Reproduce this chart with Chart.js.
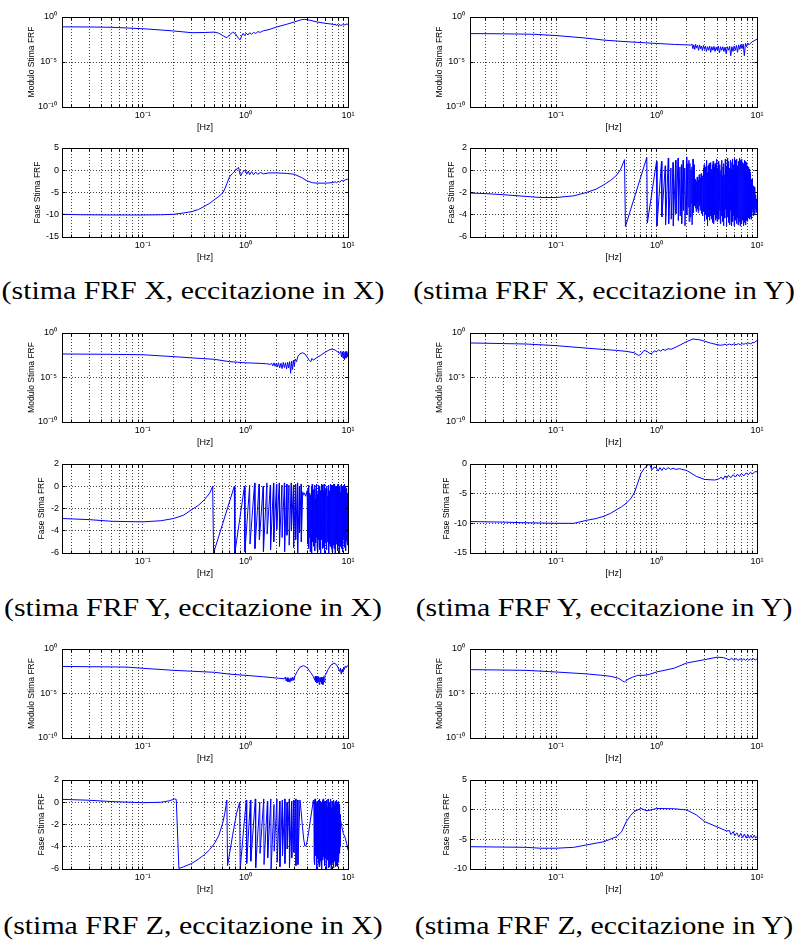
<!DOCTYPE html>
<html>
<head>
<meta charset="utf-8">
<script src="https://cdn.jsdelivr.net/npm/chart.js@4.4.1/dist/chart.umd.min.js"></script>
<style>
  html, body { margin: 0; padding: 0; background: #fff; }
  body { width: 795px; height: 943px; position: relative; overflow: hidden; }
  canvas { position: absolute; }
  .didascalia {
    position: absolute; white-space: nowrap; color: #000;
    font-family: "Liberation Serif", "Times New Roman", serif; font-size: 25.5px; line-height: 28px;
    transform: translateX(-50%) scaleX(1.17);
  }
</style>
</head>
<body>
<script>
// ---- Asse delle frequenze ----
const tickFrequenze = [0.02,0.03,0.04,0.05,0.06,0.07,0.08,0.09,
  0.1,0.2,0.3,0.4,0.5,0.6,0.7,0.8,0.9,1,2,3,4,5,6,7,8,9,10];
const decadi = [0.1, 1, 10];
const etichetteDecadi = ['10⁻¹', '10⁰', '10¹'];

// ---- Asse del modulo ----
const tickModulo = [1e-10, 1e-5, 1];
const etichetteModulo = ['10⁻¹⁰', '10⁻⁵', '10⁰'];

// ---- Didascalie ----
const didascalie = [
  '(stima FRF X, eccitazione in X)', '(stima FRF X, eccitazione in Y)',
  '(stima FRF Y, eccitazione in X)', '(stima FRF Y, eccitazione in Y)',
  '(stima FRF Z, eccitazione in X)', '(stima FRF Z, eccitazione in Y)'
];

// ---- Stima FRF X, eccitazione X : [frequenza Hz, valore] ----
const moduloXX = [[0.0163,8.0e-2],[0.03,7.8e-2],[0.05,7.2e-2],[0.1,5.0e-2],[0.15,3.6e-2],[0.2,2.8e-2],
  [0.3,1.8e-2],[0.4,1.9e-2],[0.5,2.1e-2],[0.55,1.6e-2],[0.62,7e-3],[0.66,5e-3],[0.7,1.0e-2],[0.75,2.0e-2],
  [0.8,1.4e-2],[0.86,4e-3],[0.89,3e-3],[0.92,8e-3],[0.95,1.5e-2],[0.98,9e-3],[1.02,1.6e-2],[1.06,1.0e-2],
  [1.1,1.8e-2],[1.15,1.2e-2],[1.2,2.0e-2],[1.26,1.5e-2],[1.32,2.3e-2],[1.4,2.0e-2],[1.5,3.0e-2],[1.7,4.0e-2],
  [2.0,7.5e-2],[2.5,1.5e-1],[3.0,2.8e-1],[3.5,5.0e-1],[3.8,5.5e-1],[4.2,4.5e-1],[5,2.8e-1],[6,2.0e-1],
  [7,1.6e-1],[7.3,1.3e-1],[7.5,1.7e-1],[7.7,1.1e-1],[7.9,1.6e-1],[8.1,1.0e-1],[8.3,1.5e-1],[8.5,1.1e-1],
  [8.8,1.4e-1],[9.2,1.3e-1],[9.6,1.6e-1],[10,1.6e-1]];
const faseXX = [[0.0163,-9.9],[0.025,-10.0],[0.05,-10.05],[0.1,-10.05],[0.15,-10.0],[0.2,-9.9],[0.25,-9.6],
  [0.3,-9.3],[0.35,-8.8],[0.4,-8.1],[0.45,-7.4],[0.5,-6.6],[0.55,-5.9],[0.6,-5.1],[0.63,-4.2],[0.66,-3.0],
  [0.7,-1.5],[0.75,-0.7],[0.8,-0.1],[0.84,0.5],[0.86,0.6],[0.88,-0.6],[0.9,-1.3],[0.93,-0.6],[0.96,-0.2],
  [1.0,0.0],[1.03,-0.9],[1.07,-0.2],[1.1,-1.0],[1.15,-0.3],[1.2,-1.0],[1.26,-0.4],[1.32,-0.9],[1.4,-0.5],
  [1.5,-0.8],[1.7,-0.6],[2.0,-0.6],[2.5,-0.7],[3.0,-0.9],[3.5,-1.6],[4.0,-2.4],[4.5,-2.8],[5.0,-2.9],
  [6.0,-2.9],[7.0,-2.8],[7.5,-2.6],[7.7,-2.8],[8.0,-2.5],[8.3,-2.7],[8.6,-2.3],[9.0,-2.4],[9.5,-2.1],[10,-2.0]];

// ---- Stima FRF X, eccitazione Y ----
const moduloXY = [[0.0139,1.45e-2],[0.03,1.35e-2],[0.06,1.2e-2],[0.1,8.7e-3],[0.2,4.5e-3],[0.3,2.7e-3],
  [0.5,1.8e-3],[1.0,1.15e-3],[1.5,9e-4],[2.0,7.9e-4],[2.2,7.5e-4],
  [2.25,1.0e-3],[2.3,3e-4],[2.35,8e-4],[2.4,2.5e-4],[2.45,9e-4],[2.5,3.5e-4],[2.56,7e-4],[2.62,2e-4],
  [2.68,8e-4],[2.74,3e-4],[2.8,6e-4],[2.86,1.8e-4],[2.93,7e-4],[3.0,2.5e-4],[3.07,6e-4],[3.14,1.5e-4],
  [3.22,5e-4],[3.3,2e-4],[3.38,6e-4],[3.46,1.2e-4],[3.55,5e-4],[3.64,2e-4],[3.73,5.5e-4],[3.82,1.5e-4],
  [3.92,4.5e-4],[4.02,2e-4],[4.12,6e-4],[4.23,1e-4],[4.34,5e-4],[4.45,2e-4],[4.57,5e-4],[4.69,1.5e-4],
  [4.81,4.5e-4],[4.94,8e-5],[5.07,5e-4],[5.2,2e-4],[5.34,5.5e-4],[5.48,5e-5],[5.62,5e-4],[5.77,1.5e-4],
  [5.92,6e-4],[6.08,2e-4],[6.24,7e-4],[6.4,1.2e-4],[6.57,8e-4],[6.74,2.5e-4],[6.92,9e-4],[7.1,3e-4],
  [7.29,1e-3],[7.48,5e-5],[7.68,1.2e-3],[7.88,5e-4],[8.1,1.3e-3],[8.3,8e-4],[8.6,1.2e-3],[9.0,1.8e-3],
  [9.5,2.5e-3],[10,3.5e-3]];
const faseXY = [[0.0139,-2.05],[0.02,-2.1],[0.03,-2.2],[0.05,-2.35],[0.07,-2.45],[0.1,-2.45],[0.15,-2.3],
  [0.2,-2.0],[0.25,-1.7],[0.3,-1.3],[0.35,-0.9],[0.4,-0.45],[0.44,0.1],[0.48,0.95],[0.49,-5.05],[0.8,1.15],
  [0.81,-4.75],[1.0,0.8],[1.01,-5.0],[1.12,0.8],[1.13,-4.2],[1.22,0.4],[1.23,-4.9],[1.31,1.1],[1.32,-4.8],
  [1.39,0.2],[1.4,-4.4],[1.46,0.7],[1.47,-5.0],[1.55,0.9],[1.56,-3.9],[1.64,1.1],[1.65,-4.5],[1.71,0.3],
  [1.72,-4.1],[1.77,0.5],[1.78,-4.8],[1.84,0.9],[1.85,-3.6],[1.91,0.2],[1.92,-5.0],[1.99,1.2],[2.0,-4.0],
  [2.05,0.6],[2.06,-3.3],[2.1,0.9],[2.11,-4.6],[2.15,0.6],[2.16,-4.2],[2.2,0.0],[2.21,-3.0],[2.25,0.3],
  [2.26,-4.9],[2.31,1.0],[2.32,-3.8],[2.36,0.5],[2.37,-3.2],
  [2.42,-0.8],[2.44,-3.4],[2.46,-1.5],[2.48,-3.7],[2.5,-1.0],[2.52,-3.0],[2.54,-0.6],[2.56,-3.5],[2.58,-1.3],
  [2.6,-3.8],[2.62,-0.9],[2.64,-2.8],[2.66,-0.4],[2.68,-3.2],[2.7,-1.1],[2.72,-3.6],[2.74,-0.7],[2.76,-3.0],
  [2.78,-0.3],[2.8,-3.9],[2.82,-1.2],[2.84,-3.4],[2.86,-0.5],[2.88,-4.1],[2.9,-0.9],[2.92,-3.1],[2.94,0.2],
  [2.96,-3.7],[2.98,0.5],[3.0,-4.6],[3.02,-0.8],[3.04,-3.3],[3.06,-0.4],[3.08,-4.0],[3.1,0.3],[3.12,-3.5],
  [3.14,0.9],[3.16,-4.4],[3.18,-0.6],[3.2,-5.0],[3.22,-0.2],[3.24,-3.8],[3.26,0.4],[3.28,-4.2],[3.3,-0.9],
  [3.32,-3.6],[3.34,0.6],[3.36,-4.5],[3.38,-0.3],[3.4,-3.4],[3.42,0.2],[3.44,-4.1],[3.46,0.7],[3.48,-3.7],
  [3.5,-0.5],[3.52,-4.4],[3.54,0.1],[3.56,-3.9],[3.58,-0.7],[3.6,-4.7],[3.62,0.5],[3.64,-3.5],[3.66,0.8],
  [3.68,-4.2],[3.7,-0.1],[3.72,-4.8],[3.74,0.3],[3.76,-3.6],[3.78,-0.4],[3.8,-4.0],[3.82,0.6],[3.84,-4.5],
  [3.86,-0.2],[3.88,-3.8],[3.9,0.4],[3.92,-4.3],[3.94,-0.6],[3.96,-3.7],[3.98,1.0],[4.0,-4.6],[4.04,0.2],
  [4.08,-3.9],[4.12,0.8],[4.16,-4.4],[4.2,-0.3],[4.24,-3.6],[4.28,0.5],[4.32,-4.8],[4.36,-0.1],[4.4,-4.1],
  [4.44,0.9],[4.48,-3.7],[4.52,-0.5],[4.56,-4.6],[4.6,0.3],[4.64,-5.0],[4.68,0.6],[4.72,-3.9],[4.76,-0.4],
  [4.8,-4.3],[4.84,1.0],[4.88,-3.5],[4.92,0.0],[4.96,-5.0],[5.0,0.4],[5.04,-4.2],[5.08,1.1],[5.12,-3.8],
  [5.16,-0.2],[5.2,-4.7],[5.24,0.8],[5.28,-4.0],[5.32,0.2],[5.36,-4.9],[5.4,-0.5],[5.44,-3.6],[5.48,0.9],
  [5.52,-4.4],[5.56,0.1],[5.6,-5.0],[5.64,0.7],[5.68,-3.9],[5.72,1.0],[5.76,-4.6],[5.8,-0.3],[5.84,-4.1],
  [5.88,0.5],[5.92,-5.0],[5.96,1.1],[6.0,-3.7],[6.04,0.3],[6.08,-4.5],[6.12,0.9],[6.16,-4.0],[6.2,-0.1],
  [6.24,-4.8],[6.28,1.0],[6.32,-3.6],[6.36,0.4],[6.4,-4.3],[6.44,0.0],[6.48,-4.9],[6.52,0.8],[6.56,-3.8],
  [6.6,0.2],[6.64,-4.6],[6.68,1.1],[6.72,-4.1],[6.76,0.5],[6.8,-5.0],[6.84,-0.2],[6.88,-3.7],[6.92,0.9],
  [6.96,-4.4],[7.0,0.3],[7.04,-4.8],[7.08,1.0],[7.12,-3.9],[7.16,0.1],[7.2,-4.5],[7.24,0.7],[7.28,-3.6],
  [7.32,-0.3],[7.36,-5.0],[7.4,0.6],[7.44,-4.2],[7.48,0.9],[7.52,-4.7],[7.56,0.2],[7.6,-3.8],[7.64,0.8],
  [7.68,-4.4],[7.72,-0.1],[7.76,-4.9],[7.8,0.5],[7.84,-3.9],[7.88,0.7],[7.92,-4.5],[7.96,-0.2],[8.0,-4.1],
  [8.04,0.4],[8.08,-4.6],[8.12,-0.3],[8.16,-3.7],[8.2,0.3],[8.24,-4.3],[8.28,-0.5],[8.32,-4.0],[8.36,0.1],
  [8.4,-4.4],[8.44,-0.7],[8.48,-3.8],[8.52,-0.2],[8.56,-4.2],[8.6,-0.9],[8.64,-3.9],[8.68,-0.4],[8.72,-4.4],
  [8.76,-1.0],[8.8,-3.7],[8.84,-0.8],[8.88,-4.1],[8.92,-1.2],[8.96,-3.6],[9.0,-1.0],[9.06,-0.8],[9.14,-4.1],
  [9.22,-1.4],[9.3,-3.6],[9.38,-1.5],[9.46,-4.0],[9.54,-1.9],[9.62,-3.5],[9.7,-2.2],[9.78,-3.8],[9.86,-2.6],
  [9.93,-3.5],[10,-3.2]];

// ---- Stima FRF Y, eccitazione X ----
const moduloYX = [[0.0163,4.4e-3],[0.05,4.0e-3],[0.1,3.6e-3],[0.2,2.2e-3],[0.3,1.6e-3],[0.5,1.1e-3],
  [0.7,6e-4],[1.0,4.5e-4],[1.3,4e-4],[1.6,3.5e-4],[1.75,3e-4],[1.8,4e-4],[1.85,2e-4],[1.9,4.5e-4],
  [1.95,1.8e-4],[2.0,4e-4],[2.05,1.5e-4],[2.1,4.5e-4],[2.16,1.2e-4],[2.22,4e-4],[2.28,1e-4],[2.34,5e-4],
  [2.4,1.3e-4],[2.46,4.5e-4],[2.52,9e-5],[2.58,5e-4],[2.64,1.2e-4],[2.7,6e-4],[2.76,3e-5],[2.82,7e-4],
  [2.88,8e-5],[2.94,9e-4],[3.0,2e-4],[3.06,1.2e-3],[3.15,6e-4],[3.25,2.5e-3],[3.4,4.5e-3],[3.6,6e-3],
  [3.8,4.5e-3],[4.0,2e-3],[4.2,8e-4],[4.35,6e-4],[4.45,1.4e-3],[4.6,9e-4],[5.0,1.8e-3],[5.5,3.5e-3],
  [6.0,7e-3],[6.5,1.2e-2],[7.0,1.6e-2],[7.5,1.2e-2],[8.0,7e-3],[8.3,5e-3],[8.5,9e-3],[8.65,2e-3],
  [8.8,8e-3],[8.95,1.5e-3],[9.1,7e-3],[9.25,1e-3],[9.4,8e-3],[9.55,1.5e-3],[9.7,9e-3],[9.85,2e-3],[10,7e-3]];
const faseYX = [[0.0163,-2.9],[0.03,-3.0],[0.05,-3.15],[0.1,-3.2],[0.15,-3.1],[0.2,-2.9],[0.25,-2.6],
  [0.3,-2.1],[0.35,-1.7],[0.4,-1.2],[0.45,-0.6],[0.48,0.0],[0.49,-6.0],[0.78,0.0],[0.79,-6.0],[0.98,0.0],
  [0.99,-5.9],[1.1,0.1],[1.11,-5.2],[1.23,0.3],[1.24,-5.6],[1.36,0.2],[1.37,-4.8],[1.49,0.0],[1.5,-5.9],
  [1.62,0.3],[1.63,-4.3],[1.75,0.1],[1.76,-5.7],[1.88,0.3],[1.89,-5.0],[2.01,0.2],[2.02,-3.9],[2.14,0.3],
  [2.15,-5.4],[2.27,0.1],[2.28,-4.6],[2.4,0.3],[2.41,-5.9],[2.53,0.2],[2.54,-4.4],[2.66,0.1],[2.67,-5.3],
  [2.8,0.3],[2.81,-4.0],[2.94,0.1],[2.95,-5.5],[3.08,0.2],[3.09,-4.8],[3.22,0.3],[3.23,-6.0],[3.36,0.0],
  [3.37,-4.2],[3.5,0.2],[3.51,-5.0],[3.62,-0.5],[3.7,-0.8],[3.78,-0.6],[3.86,-0.9],[3.94,-0.7],
  [4.0,-0.4],[4.04,-5.2],[4.08,-0.2],[4.12,-5.6],[4.16,0.1],[4.2,-4.6],[4.24,-0.6],[4.28,-5.9],[4.32,-0.8],
  [4.36,-4.9],[4.4,0.0],[4.44,-6.0],[4.48,0.2],[4.52,-5.0],[4.56,-0.5],[4.6,-5.4],[4.64,-0.3],[4.68,-4.7],
  [4.72,0.1],[4.76,-5.8],[4.8,-1.1],[4.84,-5.1],[4.88,-0.2],[4.92,-4.6],[4.96,0.2],[5.0,-5.5],[5.04,-0.7],
  [5.08,-5.9],[5.12,-0.5],[5.16,-4.8],[5.2,0.1],[5.24,-5.3],[5.28,0.0],[5.32,-5.7],[5.36,-0.4],[5.4,-6.0],
  [5.44,-0.9],[5.48,-4.5],[5.52,0.2],[5.56,-4.8],[5.6,0.1],[5.64,-5.6],[5.68,-0.6],[5.72,-5.5],[5.76,-0.4],
  [5.8,-4.9],[5.84,0.2],[5.88,-6.0],[5.92,0.2],[5.96,-5.2],[6.0,-0.3],[6.04,-5.1],[6.08,-0.7],[6.12,-4.7],
  [6.16,0.0],[6.2,-5.7],[6.24,0.0],[6.28,-5.0],[6.32,-0.9],[6.36,-4.7],[6.4,-0.2],[6.44,-5.8],[6.48,0.1],
  [6.52,-6.0],[6.56,-1.0],[6.6,-5.2],[6.64,-0.4],[6.68,-5.4],[6.72,0.2],[6.76,-4.6],[6.8,-0.1],[6.84,-5.0],
  [6.88,-0.5],[6.92,-5.6],[6.96,0.1],[7.0,-5.9],[7.04,0.1],[7.08,-4.9],[7.12,-0.8],[7.16,-4.5],[7.2,-0.6],
  [7.24,-5.3],[7.28,0.2],[7.32,-5.6],[7.36,0.2],[7.4,-4.8],[7.44,-0.4],[7.48,-6.0],[7.52,-0.3],[7.56,-5.0],
  [7.6,0.0],[7.64,-5.2],[7.68,0.0],[7.72,-4.6],[7.76,-0.7],[7.8,-4.8],[7.84,-0.8],[7.88,-5.5],[7.92,0.1],
  [7.96,-5.8],[8.0,0.2],[8.04,-4.9],[8.08,-0.2],[8.12,-5.3],[8.16,-0.4],[8.2,-5.7],[8.24,0.0],[8.28,-6.0],
  [8.32,-0.1],[8.36,-4.6],[8.4,-0.5],[8.44,-4.9],[8.48,-0.9],[8.52,-5.4],[8.56,0.1],[8.6,-5.6],[8.64,0.2],
  [8.68,-4.8],[8.72,-0.3],[8.76,-5.1],[8.8,-0.6],[8.84,-5.5],[8.88,0.0],[8.92,-5.9],[8.96,0.0],[9.0,-4.8],
  [9.04,-0.4],[9.08,-4.6],[9.12,-0.3],[9.16,-5.2],[9.2,0.1],[9.24,-5.5],[9.28,0.2],[9.32,-4.7],[9.36,-0.6],
  [9.4,-5.0],[9.44,-0.7],[9.48,-5.6],[9.52,0.0],[9.56,-5.8],[9.6,-0.2],[9.64,-4.9],[9.68,-0.4],[9.72,-4.7],
  [9.76,-0.5],[9.8,-5.1],[9.84,-0.6],[9.88,-5.3],[9.92,-0.8],[9.96,-3.5],[10,-1.2]];

// ---- Stima FRF Y, eccitazione Y ----
const moduloYY = [[0.0139,7.6e-2],[0.03,6.5e-2],[0.05,5.8e-2],[0.1,3.8e-2],[0.2,2.0e-2],[0.3,1.4e-2],
  [0.4,1.1e-2],[0.5,8.7e-3],[0.6,6e-3],[0.66,3e-3],[0.7,4e-3],[0.75,1.1e-2],[0.8,9e-3],[0.86,5e-3],
  [0.9,5e-3],[0.95,1e-2],[1.0,8e-3],[1.05,1.3e-2],[1.1,9e-3],[1.16,1.5e-2],[1.22,1.1e-2],[1.3,1.7e-2],
  [1.4,1.5e-2],[1.6,3.0e-2],[2.0,1.1e-1],[2.3,2.1e-1],[2.7,1.7e-1],[3.0,1.2e-1],[3.5,7e-2],[4.0,5e-2],
  [4.3,4.2e-2],[4.6,4.6e-2],[4.8,5.5e-2],[5.0,4.2e-2],[5.3,5.8e-2],[5.6,4.5e-2],[5.9,6e-2],[6.2,4.8e-2],
  [6.5,6.3e-2],[6.8,5e-2],[7.1,6.6e-2],[7.4,5.3e-2],[7.7,7e-2],[8.0,5.6e-2],[8.3,7.5e-2],[8.6,6e-2],
  [9.0,8e-2],[9.4,8.5e-2],[10,1.4e-1]];
const faseYY = [[0.0139,-9.7],[0.03,-9.8],[0.05,-9.9],[0.1,-10.0],[0.15,-10.0],[0.2,-9.5],[0.25,-9.2],
  [0.3,-8.8],[0.35,-8.3],[0.4,-7.7],[0.45,-7.2],[0.5,-6.6],[0.55,-5.9],[0.6,-4.9],[0.65,-3.2],[0.7,-1.6],
  [0.75,-0.8],[0.8,-0.3],[0.85,0.0],[0.88,-0.6],[0.9,-1.0],[0.95,-0.5],[1.0,-0.7],[1.04,-1.2],[1.08,-0.6],
  [1.13,-1.1],[1.18,-0.6],[1.24,-1.0],[1.3,-0.6],[1.38,-0.9],[1.46,-0.7],[1.55,-0.9],[1.7,-0.8],[2.0,-1.1],
  [2.5,-2.1],[3.0,-2.6],[3.8,-2.7],[4.2,-2.5],[4.4,-2.2],[4.6,-2.6],[4.8,-2.0],[5.0,-2.4],[5.2,-1.9],
  [5.5,-2.3],[5.8,-1.8],[6.1,-2.2],[6.4,-1.7],[6.7,-2.1],[7.0,-1.6],[7.4,-2.0],[7.8,-1.5],[8.2,-1.8],
  [8.6,-1.4],[9.0,-1.7],[9.5,-1.3],[10,-1.3]];

// ---- Stima FRF Z, eccitazione X ----
const moduloZX = [[0.0163,1.1e-2],[0.07,9.3e-3],[0.1,6.8e-3],[0.2,4e-3],[0.3,3.2e-3],[0.5,2.4e-3],
  [0.7,1.5e-3],[1.0,1.1e-3],[1.5,7.5e-4],[2.0,5.5e-4],[2.4,4.5e-4],[2.45,7e-4],[2.5,2.5e-4],[2.55,6e-4],
  [2.6,2e-4],[2.66,5e-4],[2.72,1.8e-4],[2.78,6e-4],[2.84,2.5e-4],[2.9,7e-4],[2.96,3e-4],[3.05,1e-3],
  [3.2,3e-3],[3.4,9e-3],[3.7,1.35e-2],[4.0,8e-3],[4.3,2.5e-3],[4.6,8e-4],[4.75,3e-4],[4.8,9e-4],
  [4.86,2e-4],[4.92,8e-4],[4.98,1.5e-4],[5.04,7e-4],[5.1,2e-4],[5.17,8e-4],[5.24,1e-4],[5.31,6e-4],
  [5.38,2e-4],[5.46,7e-4],[5.54,1.2e-4],[5.62,6e-4],[5.7,1e-4],[5.78,8e-4],[5.86,2e-4],[5.95,1e-3],
  [6.1,1.5e-3],[6.4,5e-3],[6.8,1.5e-2],[7.3,2.7e-2],[7.7,1.8e-2],[8.0,8e-3],[8.3,3e-3],[8.45,7e-3],
  [8.6,1.5e-3],[8.75,5e-3],[8.9,2.5e-3],[9.05,8e-3],[9.2,5e-3],[9.4,1.2e-2],[9.6,8e-3],[9.8,1.3e-2],[10,1.2e-2]];
const faseZX = [[0.0163,0.26],[0.03,0.18],[0.05,0.06],[0.1,-0.04],[0.15,0.0],[0.18,0.12],[0.205,0.3],
  [0.212,0.25],[0.225,-5.95],[0.25,-5.8],[0.3,-5.5],[0.35,-5.1],[0.4,-4.7],[0.45,-4.25],[0.5,-3.7],
  [0.55,-3.0],[0.6,-1.9],[0.63,-1.0],[0.66,0.2],[0.67,-5.7],[0.75,-3.0],[0.82,-1.0],[0.88,0.0],[0.89,-6.0],
  [0.96,-2.5],[1.02,0.2],[1.03,-5.5],[1.12,0.2],[1.13,-5.3],[1.25,0.3],[1.26,-5.9],[1.38,0.0],[1.39,-4.6],
  [1.51,0.3],[1.52,-5.6],[1.64,0.1],[1.65,-5.0],[1.77,0.3],[1.78,-6.0],[1.9,-0.2],[1.91,-4.4],[2.03,0.3],
  [2.04,-5.4],[2.16,0.1],[2.17,-5.8],[2.29,0.2],[2.3,-4.8],[2.42,0.3],[2.43,-5.5],[2.55,0.0],[2.56,-4.2],
  [2.68,0.3],[2.69,-5.9],[2.82,0.1],[2.83,-5.0],[2.96,0.2],[2.97,-4.5],[3.1,0.3],[3.11,-5.7],[3.24,0.2],
  [3.25,-5.6],[3.4,0.2],
  [3.5,-0.9],[3.6,-2.2],[3.7,-3.3],[3.8,-3.95],[3.9,-3.9],[4.0,-3.5],[4.15,-2.6],[4.3,-1.6],[4.45,-0.7],
  [4.6,0.2],[4.65,-0.2],[4.68,-5.2],[4.71,0.1],[4.74,-5.6],[4.77,0.3],[4.8,-4.6],[4.83,-0.3],[4.86,-4.8],
  [4.89,-0.5],[4.92,-5.7],[4.95,0.0],[4.98,-6.0],[5.01,0.1],[5.04,-4.9],[5.07,-0.6],[5.1,-5.1],[5.13,-0.8],
  [5.16,-5.5],[5.19,0.2],[5.22,-5.8],[5.25,0.3],[5.28,-4.7],[5.31,-0.2],[5.34,-4.5],[5.37,-0.4],[5.4,-5.3],
  [5.43,0.1],[5.46,-5.5],[5.49,0.0],[5.52,-5.9],[5.55,-0.5],[5.58,-6.0],[5.61,-0.9],[5.64,-5.0],[5.67,0.2],
  [5.7,-5.2],[5.73,0.3],[5.76,-4.6],[5.79,-0.2],[5.82,-4.9],[5.85,-0.3],[5.88,-5.4],[5.91,0.1],[5.94,-5.7],
  [5.97,0.1],[6.0,-4.8],[6.03,-0.6],[6.06,-5.0],[6.09,-0.4],[6.12,-5.6],[6.15,0.2],[6.18,-6.0],[6.21,0.2],
  [6.24,-4.7],[6.27,-0.5],[6.3,-4.6],[6.33,-0.4],[6.36,-5.2],[6.39,0.3],[6.42,-5.4],[6.45,0.3],[6.48,-5.9],
  [6.51,-0.4],[6.54,-5.8],[6.57,-0.7],[6.6,-4.8],[6.63,0.0],[6.66,-4.9],[6.69,0.0],[6.72,-5.3],[6.75,-0.2],
  [6.78,-5.6],[6.81,0.3],[6.84,-6.0],[6.87,-0.5],[6.9,-5.0],[6.93,-0.7],[6.96,-4.7],[6.99,0.1],[7.02,-5.5],
  [7.05,0.1],[7.08,-5.1],[7.11,-0.5],[7.14,-4.8],[7.17,-0.8],[7.2,-5.4],[7.23,0.2],[7.26,-5.9],[7.29,0.2],
  [7.32,-5.0],[7.35,-0.3],[7.38,-4.6],[7.41,-0.6],[7.44,-5.3],[7.47,0.0],[7.5,-5.5],[7.53,0.1],[7.56,-5.8],
  [7.59,-0.4],[7.62,-5.0],[7.65,-0.8],[7.68,-4.7],[7.71,0.2],[7.74,-5.2],[7.77,0.2],[7.8,-5.7],[7.83,-0.3],
  [7.86,-5.8],[7.89,-0.4],[7.92,-4.9],[7.95,0.0],[7.98,-5.1],[8.01,0.0],[8.04,-5.4],[8.07,-0.5],[8.1,-4.8],
  [8.13,-0.6],[8.16,-5.0],[8.19,-0.2],[8.22,-4.5],[8.25,-0.9],[8.28,-4.6],[8.31,-0.7],[8.34,-4.3],
  [8.37,-1.1],[8.4,-4.0],[8.45,-1.5],[8.7,-2.2],[9.0,-2.8],[9.4,-3.2],[9.7,-3.7],[10,-4.3]];

// ---- Stima FRF Z, eccitazione Y ----
const moduloZY = [[0.0139,4.8e-3],[0.05,4e-3],[0.1,2.6e-3],[0.2,1.6e-3],[0.3,1.05e-3],[0.35,8.5e-4],
  [0.42,5e-4],[0.46,2.5e-4],[0.48,2e-4],[0.52,4e-4],[0.58,7e-4],[0.65,1.1e-3],[0.75,1.1e-3],[0.85,1.4e-3],
  [1.0,2.6e-3],[1.5,7e-3],[2.0,2.7e-2],[3.0,6.3e-2],[4.0,1.2e-1],[4.6,1.1e-1],[5.0,8e-2],[5.3,6e-2],
  [5.6,9e-2],[5.9,5.5e-2],[6.2,8.5e-2],[6.5,5.5e-2],[6.8,8e-2],[7.1,5.3e-2],[7.4,8e-2],[7.7,5.3e-2],
  [8.0,8e-2],[8.3,5.5e-2],[8.6,8e-2],[8.9,5.5e-2],[9.2,8.2e-2],[9.6,6e-2],[10,8e-2]];
const faseZY = [[0.0139,-6.24],[0.05,-6.35],[0.07,-6.5],[0.1,-6.5],[0.15,-6.35],[0.2,-5.95],[0.3,-5.4],
  [0.4,-4.55],[0.45,-3.7],[0.5,-2.0],[0.55,-1.0],[0.6,-0.3],[0.7,0.2],[0.75,0.0],[0.8,-0.2],[0.9,0.0],
  [1.0,0.2],[1.5,0.15],[2.0,-0.05],[2.5,-0.9],[3.0,-2.0],[4.0,-2.9],[5.0,-3.6],[5.3,-3.5],[5.5,-4.2],
  [5.8,-3.7],[6.0,-4.4],[6.3,-3.9],[6.6,-4.6],[6.9,-4.0],[7.2,-4.7],[7.5,-4.1],[7.8,-4.8],[8.1,-4.2],
  [8.4,-4.8],[8.7,-4.3],[9.0,-4.8],[9.4,-4.3],[9.7,-4.8],[10,-4.5]];

// ---- Impaginazione ----
const FONT = "'Liberation Sans', Arial, sans-serif";
const colonne = [
  { plotL: 62,  plotR: 348, canvasL: 0,   fmin: 0.01633, centro: 193 },
  { plotL: 470, plotR: 757, canvasL: 400, fmin: 0.0139,  centro: 604 }
];
const righeDidascalia = [291, 608, 926];

// pannelli: tipo, colonna, bordo superiore/inferiore dell'area, centro del titolo Y
const pannelli = [
  { dati: moduloXX, tipo: 'mod', col: 0, top: 17,  bottom: 107, titoloX: 32 },
  { dati: faseXX,   tipo: 'fase', col: 0, top: 148, bottom: 237, titoloX: 38, min: -15, max: 5, passo: 5 },
  { dati: moduloXY, tipo: 'mod', col: 1, top: 17,  bottom: 107, titoloX: 440 },
  { dati: faseXY,   tipo: 'fase', col: 1, top: 148, bottom: 237, titoloX: 452, min: -6, max: 2, passo: 2 },
  { dati: moduloYX, tipo: 'mod', col: 0, top: 333, bottom: 422, titoloX: 32 },
  { dati: faseYX,   tipo: 'fase', col: 0, top: 464, bottom: 553, titoloX: 42, min: -6, max: 2, passo: 2 },
  { dati: moduloYY, tipo: 'mod', col: 1, top: 333, bottom: 422, titoloX: 440 },
  { dati: faseYY,   tipo: 'fase', col: 1, top: 464, bottom: 553, titoloX: 447, min: -15, max: 0, passo: 5 },
  { dati: moduloZX, tipo: 'mod', col: 0, top: 649, bottom: 738, titoloX: 32 },
  { dati: faseZX,   tipo: 'fase', col: 0, top: 780, bottom: 869, titoloX: 42, min: -6, max: 2, passo: 2 },
  { dati: moduloZY, tipo: 'mod', col: 1, top: 649, bottom: 738, titoloX: 440 },
  { dati: faseZY,   tipo: 'fase', col: 1, top: 780, bottom: 869, titoloX: 447, min: -10, max: 5, passo: 5 }
];

// Riquadro degli assi con tacche rivolte verso l'interno
const allinea = v => Math.round(v - 0.5) + 0.5;
const riquadro = {
  id: 'riquadro',
  afterDraw(chart) {
    const { ctx, chartArea: a, scales } = chart;
    const l = allinea(a.left), r = allinea(a.right), t = allinea(a.top), b = allinea(a.bottom);
    const LT = 3;
    ctx.save();
    ctx.strokeStyle = '#000';
    ctx.lineWidth = 1;
    ctx.beginPath();
    scales.x.ticks.forEach(tk => {
      const x = allinea(scales.x.getPixelForValue(tk.value));
      ctx.moveTo(x, b); ctx.lineTo(x, b - LT);
      ctx.moveTo(x, t); ctx.lineTo(x, t + LT);
    });
    scales.y.ticks.forEach(tk => {
      const y = allinea(scales.y.getPixelForValue(tk.value));
      ctx.moveTo(l, y); ctx.lineTo(l + LT, y);
      ctx.moveTo(r, y); ctx.lineTo(r - LT, y);
    });
    ctx.rect(l, t, r - l, b - t);
    ctx.stroke();
    ctx.restore();
  }
};

const griglia = { color: 'rgba(0,0,0,0.75)', lineWidth: 1, drawTicks: false };
const bordoGriglia = { display: true, color: '#000', dash: [1, 2] };

function creaPannello(p) {
  const col = colonne[p.col];
  const padTop = 10, padRight = 14, altezzaAsseX = 30;
  const larghezzaAsseY = col.plotL - col.canvasL;
  const cw = col.plotR - col.canvasL + padRight;
  const ch = (p.bottom - p.top) + padTop + altezzaAsseX;
  const cv = document.createElement('canvas');
  cv.width = cw; cv.height = ch;
  cv.style.left = col.canvasL + 'px';
  cv.style.top = (p.top - padTop) + 'px';
  cv.style.width = cw + 'px';
  cv.style.height = ch + 'px';
  document.body.appendChild(cv);

  const fontTitoloY = 8.5;
  const padTitoloY = p.titoloX - col.canvasL - fontTitoloY * 1.2 / 2;

  const assey = p.tipo === 'mod' ? {
    type: 'logarithmic', min: 1e-10, max: 1,
    afterBuildTicks: s => { s.ticks = tickModulo.map(v => ({ value: v })); },
    ticks: { autoSkip: false, padding: 5, color: '#000', font: { family: FONT, size: 9 },
             callback: (v, i) => etichetteModulo[i] },
    title: { display: true, text: 'Modulo Stima FRF', color: '#000',
             font: { family: FONT, size: fontTitoloY }, padding: { top: padTitoloY, bottom: 0 } }
  } : {
    type: 'linear', min: p.min, max: p.max,
    ticks: { stepSize: p.passo, autoSkip: false, padding: 3, color: '#000', font: { family: FONT, size: 9 } },
    title: { display: true, text: 'Fase Stima FRF', color: '#000',
             font: { family: FONT, size: fontTitoloY }, padding: { top: padTitoloY, bottom: 0 } }
  };
  assey.grid = griglia;
  assey.border = bordoGriglia;
  assey.afterFit = s => { s.width = larghezzaAsseY; s.paddingTop = 0; s.paddingBottom = 0; };

  new Chart(cv, {
    type: 'line',
    data: {
      datasets: [{
        data: p.dati.map(([x, y]) => ({ x, y })),
        borderColor: '#0000ff', borderWidth: 1, pointRadius: 0, tension: 0, fill: false
      }]
    },
    options: {
      responsive: false, animation: false, devicePixelRatio: 1, events: [],
      layout: { padding: { top: padTop, right: padRight, left: 0, bottom: 0 } },
      plugins: { legend: { display: false }, tooltip: { enabled: false } },
      scales: {
        x: {
          type: 'logarithmic', min: col.fmin, max: 10,
          afterBuildTicks: s => { s.ticks = tickFrequenze.map(v => ({ value: v })); },
          ticks: {
            autoSkip: false, maxRotation: 0, minRotation: 0, padding: 3, color: '#000',
            font: { family: FONT, size: 9 },
            callback: v => { const i = decadi.indexOf(v); return i >= 0 ? etichetteDecadi[i] : ''; }
          },
          grid: griglia,
          border: bordoGriglia,
          title: { display: true, text: '[Hz]', color: '#000', font: { family: FONT, size: 9 },
                   padding: { top: 0, bottom: 3.6 } },
          afterFit: s => { s.height = altezzaAsseX; s.paddingLeft = 0; s.paddingRight = 0; }
        },
        y: assey
      }
    },
    plugins: [riquadro]
  });
}

pannelli.forEach(creaPannello);

didascalie.forEach((testo, i) => {
  const d = document.createElement('div');
  d.className = 'didascalia';
  d.textContent = testo;
  d.style.left = colonne[i % 2].centro + 'px';
  d.style.top = (righeDidascalia[Math.floor(i / 2)] - 14) + 'px';
  document.body.appendChild(d);
});
</script>
</body>
</html>
